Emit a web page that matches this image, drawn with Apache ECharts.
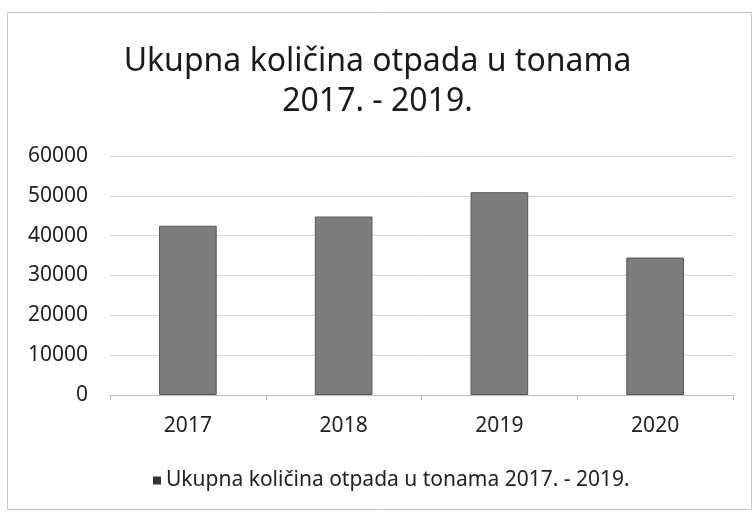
<!DOCTYPE html>
<html>
<head>
<meta charset="utf-8">
<script src="https://cdn.jsdelivr.net/npm/echarts@6/dist/echarts.min.js"></script>
<style>
  html, body { margin: 0; padding: 0; background: #fff; }
  #chart { width: 755px; height: 515px; }
</style>
</head>
<body>
<div id="chart"></div>
<script>
const years = ['2017', '2018', '2019', '2020'];
const amounts = [42500, 44800, 50900, 34500];
const seriesName = 'Ukupna količina otpada u tonama 2017. - 2019.';
const titleText = 'Ukupna količina otpada u tonama\n2017. - 2019.';

const chart = echarts.init(document.getElementById('chart'), null, { renderer: 'canvas' });

const font = 'Noto Sans';

chart.setOption({
  animation: false,
  backgroundColor: '#fff',
  graphic: [{
    type: 'rect',
    shape: { x: 7.5, y: 12.5, width: 744, height: 497 },
    style: { fill: 'none', stroke: '#c8c8c8', lineWidth: 1 },
    silent: true
  }],
  title: {
    text: titleText,
    left: 'center',
    top: 37,
    textStyle: {
      fontFamily: font,
      fontSize: 32,
      fontWeight: 'normal',
      color: '#1a1a1a',
      lineHeight: 40
    }
  },
  legend: {
    bottom: 19,
    left: 148,
    icon: 'rect',
    itemWidth: 8,
    itemHeight: 8,
    itemGap: 8,
    itemStyle: { color: '#333', borderWidth: 0 },
    textStyle: { fontFamily: font, fontSize: 21, color: '#222' },
    data: [seriesName]
  },
  grid: {
    left: 110,
    right: 22,
    top: 156,
    bottom: 120
  },
  xAxis: {
    type: 'category',
    data: years,
    axisLine: { show: true, lineStyle: { color: '#bdbdbd', width: 1 } },
    axisTick: { show: true, length: 5, lineStyle: { color: '#bdbdbd' } },
    axisLabel: { fontFamily: font, fontSize: 21, color: '#222', margin: 21 }
  },
  yAxis: {
    type: 'value',
    min: 0,
    max: 60000,
    interval: 10000,
    axisLine: { show: false },
    axisTick: { show: false },
    axisLabel: {
      fontFamily: font, fontSize: 21, color: '#222', margin: 22,
      formatter: v => String(v)
    },
    splitLine: { lineStyle: { color: '#d4d4d4', width: 1 } }
  },
  series: [{
    name: seriesName,
    type: 'bar',
    data: amounts,
    barWidth: '37%',
    itemStyle: { color: '#7d7d7d', borderColor: '#555', borderWidth: 1 }
  }]
});
</script>
</body>
</html>
